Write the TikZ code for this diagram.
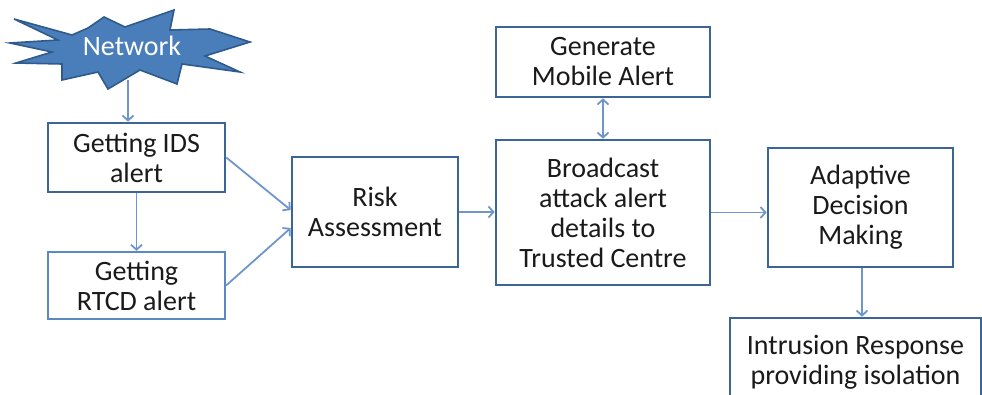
\documentclass[tikz,border=0pt]{standalone}
\usepackage{fontspec}
\setmainfont{Carlito}
\usetikzlibrary{calc, arrows.meta, positioning}
\definecolor{boxline}{HTML}{3B6594}
\definecolor{boxlite}{HTML}{5A88C2}
\definecolor{linkblue}{HTML}{6F96CB}
\definecolor{burstfill}{HTML}{4A7EBB}
\definecolor{burstline}{HTML}{2F5A8C}
\definecolor{txt}{HTML}{1A1A1A}
\tikzset{
  box/.style={draw=boxline, line width=2.6pt, fill=white, align=center, text=txt,
    font=\fontsize{28}{30}\selectfont, inner sep=0pt},
  link/.style={draw=linkblue, line width=1.8pt, -{Straight Barb[length=5pt, width=11pt]}},
  dlink/.style={link, {Straight Barb[length=5pt, width=11pt]}-{Straight Barb[length=5pt, width=11pt]}}
}
\begin{document}
\begin{tikzpicture}[x=1pt, y=-1pt]
      \useasboundingbox (0,0) rectangle (982,394);
      \clip (0,0) rectangle (982,394);
      \filldraw[fill=burstfill, draw=burstline, line width=1.6pt]
        (14,19) -- (72,35) -- (88,28) -- (104,17) -- (125,27) -- (174,10) -- (170,30)
        -- (210,29) -- (250,42) -- (205,56) -- (240,72) -- (182,64) -- (177,84)
        -- (140,70) -- (108,89) -- (98,72) -- (62,80) -- (62,64) -- (16,63)
        -- (52,52) -- (10,43) -- (58,40) -- cycle;
      \node[text=white, font=\fontsize{28}{30}\selectfont] (net) at (132,46) {Network};
      \coordinate (netfoot) at (128,80);
      \node[box, minimum width=177pt, minimum height=69pt] (ids) at (136.5,157.5) {Getting IDS\\alert};
      \node[box, draw=boxlite, line width=2.2pt, minimum width=177pt, minimum height=67pt] (rtcd) at (136.5,285.5) {Getting\\RTCD alert};
      \node[box, minimum width=166pt, minimum height=110pt] (risk) at (375,212) {Risk\\Assessment};
      \node[box, minimum width=214pt, minimum height=145pt] (bcast) at (603,212.5) {Broadcast\\attack alert\\details to\\Trusted Centre};
      \node[box, minimum width=214pt, minimum height=70pt] (mobile) at (603,62) {Generate\\Mobile Alert};
      \node[box, minimum width=185pt, minimum height=119pt] (adapt) at (860.5,207.5) {Adaptive\\Decision\\Making};
      \node[box, minimum width=251pt, minimum height=88pt] (intr) at (855.5,362) {Intrusion Response\\providing isolation};
      \draw[link] (netfoot) -- (netfoot |- ids.north);
      \draw[link] (ids.south) -- (rtcd.north);
      \draw[link] (ids.east) -- ([yshift=2pt]risk.west);
      \draw[link] (rtcd.east) -- ([yshift=-16pt]risk.west);
      \draw[link] (risk.east) -- (risk.east -| bcast.west);
      \draw[dlink] (mobile.south) -- (bcast.north);
      \draw[link] (bcast.east) -- (bcast.east -| adapt.west);
      \draw[link] ([xshift=1.5pt]adapt.south) -- ([xshift=1.5pt]adapt.south |- intr.north);
    \end{tikzpicture}
\end{document}
